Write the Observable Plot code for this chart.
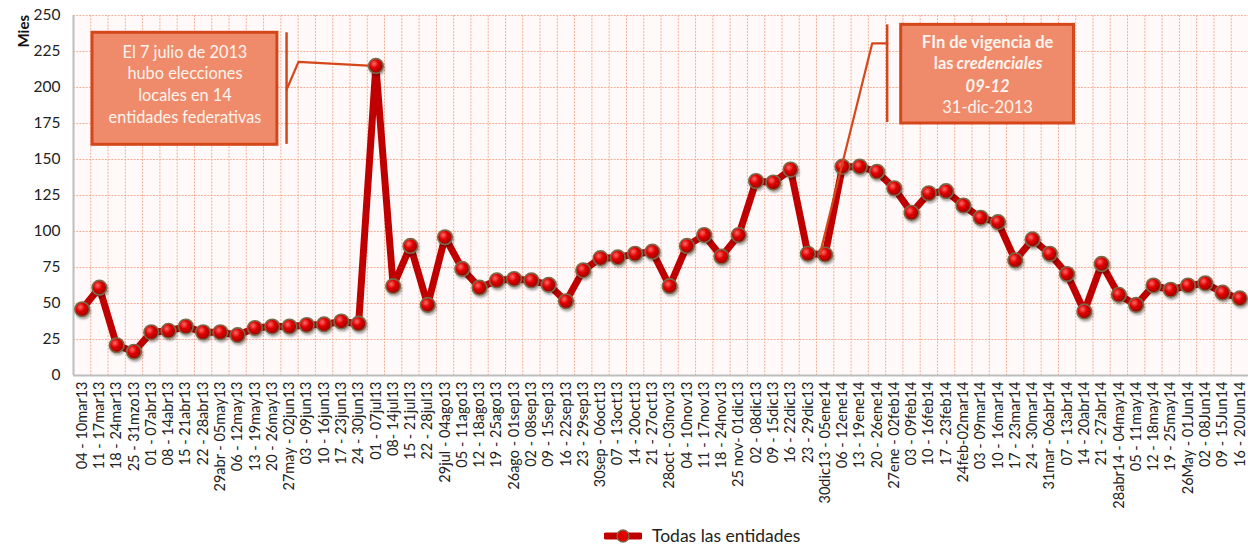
<!DOCTYPE html>
<html>
<head>
<meta charset="utf-8">
<script src="https://cdn.jsdelivr.net/npm/d3@7"></script>
<script src="https://cdn.jsdelivr.net/npm/@observablehq/plot@0.6"></script>
<style>
  body { margin: 0; background: #fff; font-family: Lato, "Noto Sans", sans-serif; }
  #chart svg { display: block; }
  #legend { position: relative; height: 33px; }
  #legend .item { position: absolute; left: 604px; top: 10px; display: flex; align-items: center; gap: 10px; font-size: 17.5px; color: #222; }
</style>
</head>
<body>
<div id="chart"></div>
<div id="legend"><div class="item"><svg width="38" height="16"><line x1="2" y1="8" x2="36" y2="8" stroke="#C00000" stroke-width="7" stroke-linecap="round"/><circle cx="19" cy="8" r="6" fill="#E00000" stroke="#7a6a4a" stroke-width="1.3"/></svg><span>Todas las entidades</span></div></div>
<script>
const labels = [
  "04 - 10mar13","11 - 17mar13","18 - 24mar13","25 - 31mzo13","01 - 07abr13","08 - 14abr13",
  "15 - 21abr13","22 - 28abr13","29abr - 05may13","06 - 12may13","13 - 19may13","20 - 26may13",
  "27may - 02jun13","03 - 09jun13","10 - 16jun13","17 - 23jun13","24 - 30jun13","01 - 07jul13",
  "08- 14jul13","15 - 21jul13","22 - 28jul13","29jul - 04ago13","05 - 11ago13","12 - 18ago13",
  "19 - 25ago13","26ago - 01sep13","02 - 08sep13","09 - 15sep13","16 - 22sep13","23 - 29sep13",
  "30sep - 06oct13","07 - 13oct13","14 - 20oct13","21 - 27oct13","28oct - 03nov13","04 - 10nov13",
  "11 - 17nov13","18 - 24nov13","25 nov- 01dic13","02 - 08dic13","09 - 15dic13","16 - 22dic13",
  "23 - 29dic13","30dic13 - 05ene14","06 - 12ene14","13 - 19ene14","20 - 26ene14","27ene - 02feb14",
  "03 - 09feb14","10 - 16feb14","17 - 23feb14","24feb-02mar14","03 - 09mar14","10 - 16mar14",
  "17 - 23mar14","24 - 30mar14","31mar - 06abr14","07 - 13abr14","14 - 20abr14","21 - 27abr14",
  "28abr14 - 04may14","05 - 11may14","12 - 18may14","19 - 25may14","26May - 01Jun14","02 - 08Jun14",
  "09 - 15Jun14","16 - 20Jun14"
];
const values = [
  46, 61, 21, 16.5, 30, 31, 34, 30, 30, 28, 33, 34,
  34, 35, 35.5, 37.5, 36, 215, 62, 90, 49, 96, 74, 61,
  66, 67, 66, 63, 51.5, 73, 81.5, 82, 84.5, 86, 62, 90,
  97.5, 82.5, 97.5, 135, 134, 143, 84.5, 84, 145, 145, 141.5, 130,
  113, 126.5, 128, 118, 109.5, 106.5, 80, 94.5, 84.5, 70.5, 44.5, 77.5,
  56, 49, 62.5, 59.5, 62.5, 64, 57.5, 53.5
];
const yTicks = [0, 25, 50, 75, 100, 125, 150, 175, 200, 225, 250];
const seriesName = "Todas las entidades";
const yLabel = "Mies";

const note1 = "El 7 julio de 2013\nhubo elecciones\nlocales en 14\nentidades federativas";
const note2a = "FIn de vigencia de";
const note2b1 = "las";
const note2b2 = "credenciales";
const note2c = "09-12";
const note2d = "31-dic-2013";

const data = values.map((v, i) => ({i, x: i + 0.5, v, label: labels[i]}));

// annotation geometry in data units (x index, y value)
const box1 = [{x1: 1.1, x2: 11.8, y1: 160.2, y2: 238}];
const bar1 = [{x: 12.33, y1: 160.5, y2: 238}];
const lead1 = [{x: 12.33, y: 198.4}, {x: 13.02, y: 217.8}, {x: 17.3, y: 215}];
const box2 = [{x1: 47.9, x2: 57.9, y1: 175, y2: 243.5}];
const bar2 = [{x: 47.09, y1: 175.7, y2: 243.5}];
const lead2 = [{x: 47.09, y: 230.6}, {x: 46.22, y: 230.6}, {x: 43.2, y: 84.5}];
const n2x = 52.9;
const n2y = [231, 216.5, 200.5, 186];

const boxFill = "#EF8B6B", boxStroke = "#D5471B", noteText = "#FFF4EE";
const gridColor = "#F3A68C";

const plot = Plot.plot({
  width: 1248,
  height: 515,
  marginLeft: 73,
  marginRight: 0,
  marginTop: 15,
  marginBottom: 140,
  style: {fontFamily: "Lato, 'Noto Sans', sans-serif", color: "#222", background: "transparent"},
  x: {type: "linear", domain: [0, labels.length]},
  y: {domain: [0, 250]},
  marks: [
    Plot.frame({fill: "#FFFAF9", stroke: null}),
    Plot.gridY(yTicks, {stroke: gridColor, strokeOpacity: 0.9, strokeDasharray: "2,1.2", strokeWidth: 1}),
    Plot.gridX(d3.range(0, labels.length + 1), {stroke: gridColor, strokeOpacity: 0.9, strokeDasharray: "2,1.2", strokeWidth: 1}),
    Plot.ruleY([0], {stroke: "#BDBDBD", strokeWidth: 2}),
    Plot.ruleX([0], {stroke: "#BDBDBD", strokeWidth: 2}),
    Plot.axisY(yTicks, {tickSize: 0, tickPadding: 13, fontSize: 15.5, label: null}),
    Plot.axisX(data.map(d => d.x), {
      tickSize: 0, tickPadding: 6, tickRotate: -90, fontSize: 14.5, label: null,
      tickFormat: (d) => labels[Math.floor(d)]
    }),
    Plot.text([yLabel], {frameAnchor: "top-left", dx: -55, dy: 32, rotate: -90, fontWeight: "bold", fontSize: 15, fill: "#111"}),
    // annotation 1
    Plot.rect(box1, {x1: "x1", x2: "x2", y1: "y1", y2: "y2", fill: boxFill, stroke: boxStroke, strokeWidth: 3}),
    Plot.text([note1], {x: (box1[0].x1 + box1[0].x2) / 2, y: 202.9, fill: noteText, fontSize: 16.3, lineHeight: 1.33, textAnchor: "middle"}),
    Plot.ruleX(bar1, {x: "x", y1: "y1", y2: "y2", stroke: boxStroke, strokeWidth: 2.5}),
    Plot.line(lead1, {x: "x", y: "y", stroke: boxStroke, strokeWidth: 2.2}),
    // data series
    Plot.line(data, {x: "x", y: "v", stroke: "#C00000", strokeWidth: 7, strokeLinejoin: "round"}),
    Plot.dot(data, {x: "x", y: "v", r: 7.3, fill: "url(#ball)", stroke: "#7a6a4a", strokeWidth: 1.6, title: d => `${d.label}: ${d.v}`}),
    // annotation 2
    Plot.line(lead2, {x: "x", y: "y", stroke: boxStroke, strokeWidth: 2.2}),
    Plot.ruleX(bar2, {x: "x", y1: "y1", y2: "y2", stroke: boxStroke, strokeWidth: 2.5}),
    Plot.rect(box2, {x1: "x1", x2: "x2", y1: "y1", y2: "y2", fill: boxFill, stroke: boxStroke, strokeWidth: 3}),
    Plot.text([note2a], {x: n2x, y: n2y[0], fill: noteText, fontSize: 16.5, fontWeight: "bold"}),
    Plot.text([note2b1], {x: n2x, y: n2y[1], dx: -34, textAnchor: "end", fill: noteText, fontSize: 16.5, fontWeight: "bold"}),
    Plot.text([note2b2], {x: n2x, y: n2y[1], dx: -31, textAnchor: "start", fill: noteText, fontSize: 16.5, fontStyle: "italic", fontWeight: "bold"}),
    Plot.text([note2c], {x: n2x, y: n2y[2], fill: noteText, fontSize: 16.5, fontStyle: "italic", fontWeight: "bold"}),
    Plot.text([note2d], {x: n2x, y: n2y[3], fill: noteText, fontSize: 16.5})
  ]
});

const svg = d3.select(plot);
const defs = svg.insert("defs", ":first-child");
const g = defs.append("radialGradient").attr("id", "ball").attr("cx", "38%").attr("cy", "35%").attr("r", "65%");
g.append("stop").attr("offset", "0%").attr("stop-color", "#FF6A6A");
g.append("stop").attr("offset", "45%").attr("stop-color", "#E00000");
g.append("stop").attr("offset", "100%").attr("stop-color", "#9A0000");
const f = defs.append("filter").attr("id", "shadow").attr("x", "-50%").attr("y", "-50%").attr("width", "200%").attr("height", "200%");
f.append("feDropShadow").attr("dx", 1).attr("dy", 2).attr("stdDeviation", 1.2).attr("flood-color", "#000").attr("flood-opacity", 0.35);
svg.selectAll('g[aria-label="dot"]').attr("filter", "url(#shadow)");

document.getElementById("chart").appendChild(plot);
</script>
</body>
</html>
